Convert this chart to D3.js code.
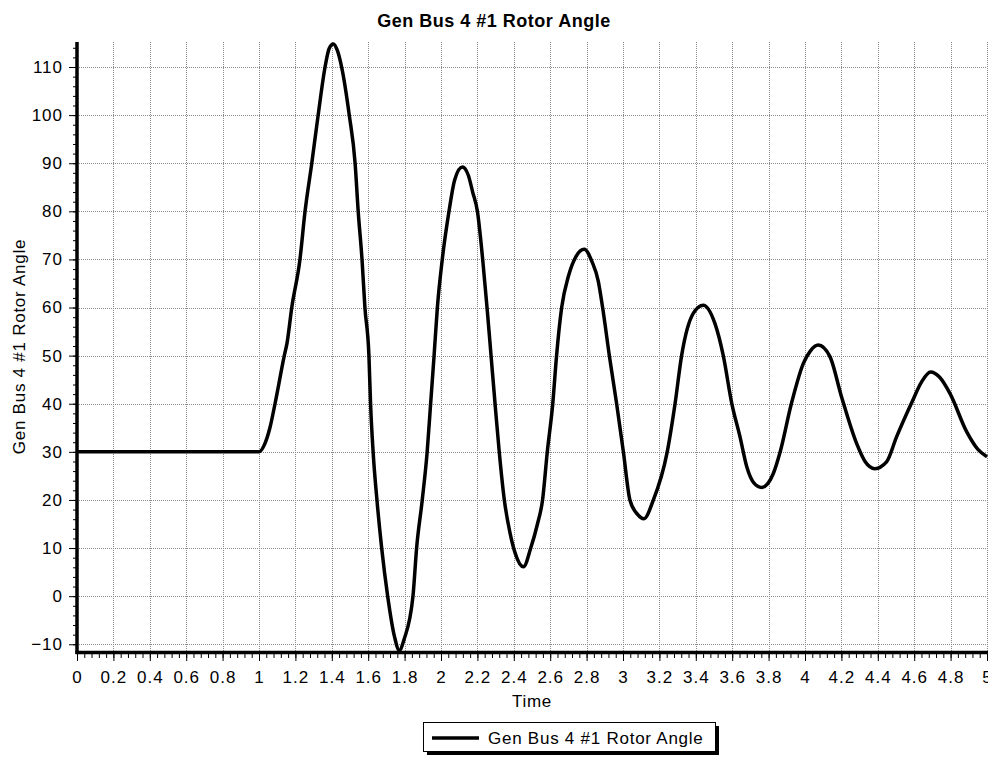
<!DOCTYPE html>
<html>
<head>
<meta charset="utf-8">
<script src="https://cdn.jsdelivr.net/npm/d3@7"></script>
<style>
  body { margin: 0; background: #fff; }
  svg { display: block; font-family: "Liberation Sans", Arial, sans-serif; }
</style>
</head>
<body>
<div id="chart"></div>
<script>
// values
const chartTitle = 'Gen Bus 4 #1 Rotor Angle';
const seriesName = 'Gen Bus 4 #1 Rotor Angle';
const xTitle = 'Time';
const yTitle = 'Gen Bus 4 #1 Rotor Angle';

const time = [0, 1.0, 1.03, 1.06, 1.088, 1.139, 1.154, 1.18, 1.225, 1.253, 1.29, 1.325, 1.363, 1.385, 1.408,
  1.43, 1.454, 1.496, 1.528, 1.545, 1.566, 1.582, 1.604, 1.613, 1.627, 1.648, 1.674, 1.707, 1.745, 1.771,
  1.797, 1.846, 1.866, 1.897, 1.924, 1.943, 1.962, 1.98, 2.007, 2.044, 2.075, 2.117, 2.15, 2.174, 2.2,
  2.229, 2.253, 2.275, 2.297, 2.32, 2.348, 2.38, 2.407, 2.453, 2.493, 2.53, 2.558, 2.584, 2.614, 2.635,
  2.663, 2.70, 2.74, 2.787, 2.83, 2.864, 2.888, 2.925, 2.965, 3.002, 3.038, 3.08, 3.115, 3.167, 3.243,
  3.286, 3.322, 3.386, 3.441, 3.505, 3.551, 3.597, 3.643, 3.68, 3.72, 3.762, 3.826, 3.863, 3.925, 3.991,
  4.03, 4.073, 4.137, 4.201, 4.284, 4.33, 4.384, 4.448, 4.503, 4.586, 4.64, 4.69, 4.74, 4.797, 4.888,
  4.95, 5.0];
const angle = [30, 30, 31.5, 35, 40, 50, 52.6, 60, 70, 80, 90, 100, 110, 113.8, 114.8,
  113.5, 110, 100, 90, 80, 70, 60, 50, 40, 30, 20, 10, 0, -8.5, -11.3,
  -9, 0, 10, 20, 30, 40, 50, 60, 70, 80, 86.5, 89.2, 87.5, 84, 80,
  70, 60, 50, 40, 30, 20, 13, 9, 6.1, 10, 15, 20, 30, 40, 50,
  60, 66.5, 70.5, 72.1, 69.5, 65.5, 60, 50, 40, 30, 20, 17, 16.1, 20, 30,
  40, 50, 58.8, 60.5, 56.7, 50, 40.2, 33.1, 26.9, 23.5, 22.6, 25.5, 29.9, 40, 48.4,
  51, 52.2, 49.8, 41.4, 31.7, 28, 26.5, 27.9, 33.1, 40.2, 44.5, 46.6, 45.5, 42.1, 34.2,
  30.5, 29.0];

const xTicks = d3.range(0, 26).map(i => +(i * 0.2).toFixed(1));
const xMinorTicks = d3.range(0, 126).map(i => +(i * 0.04).toFixed(2));
const yTicks = [-10, 0, 10, 20, 30, 40, 50, 60, 70, 80, 90, 100, 110];
const yMinorTicks = d3.range(-10, 116, 2);

const width = 988, height = 757;
const plotLeft = 77, plotRight = 987, plotTop = 42, plotBottom = 651;

const svg = d3.select('#chart').append('svg')
  .attr('width', width)
  .attr('height', height);

const x = d3.scaleLinear().domain([0, 5]).range([plotLeft, plotRight]);
const y = d3.scaleLinear().domain([-11.4, 115.2]).range([plotBottom, plotTop]);
const px = v => Math.round(v) + 0.5;

// dotted grid
const grid = svg.append('g')
  .attr('stroke', '#8a8a8a')
  .attr('stroke-width', 1)
  .attr('stroke-dasharray', '1,1');
grid.selectAll('line.v')
  .data(xTicks.filter(d => d > 0))
  .join('line')
  .attr('class', 'v')
  .attr('x1', d => px(x(d))).attr('x2', d => px(x(d)))
  .attr('y1', plotTop).attr('y2', plotBottom);
grid.selectAll('line.h')
  .data(yTicks)
  .join('line')
  .attr('class', 'h')
  .attr('x1', plotLeft).attr('x2', plotRight)
  .attr('y1', d => px(y(d))).attr('y2', d => px(y(d)));

// y axis
const yAxis = svg.append('g').attr('transform', `translate(${plotLeft},0)`);
yAxis.append('g').call(d3.axisLeft(y).tickValues(yMinorTicks).tickSize(4).tickFormat(''));
yAxis.append('g').call(d3.axisLeft(y).tickValues(yTicks).tickSize(8).tickPadding(6).tickFormat(d3.format('d')));
yAxis.selectAll('.domain').remove();
yAxis.selectAll('.tick line').attr('stroke', '#000').attr('stroke-width', 1);
yAxis.selectAll('.tick text')
  .attr('fill', '#000')
  .style('font-size', '17px')
  .style('letter-spacing', '1px');

// x axis
const xAxis = svg.append('g').attr('transform', `translate(0,${plotBottom + 2})`);
xAxis.append('g').call(d3.axisBottom(x).tickValues(xMinorTicks).tickSize(5).tickFormat(''));
xAxis.append('g').call(d3.axisBottom(x).tickValues(xTicks).tickSize(8).tickPadding(10).tickFormat(d3.format('')));
xAxis.selectAll('.domain').remove();
xAxis.selectAll('.tick line').attr('stroke', '#000').attr('stroke-width', 1);
xAxis.selectAll('.tick text')
  .attr('fill', '#000')
  .style('font-size', '17px')
  .style('letter-spacing', '1px');

// thick axis lines
svg.append('line')
  .attr('x1', plotLeft).attr('x2', plotLeft)
  .attr('y1', plotTop).attr('y2', plotBottom + 3)
  .attr('stroke', '#000').attr('stroke-width', 3.5);
svg.append('line')
  .attr('x1', plotLeft - 1.5).attr('x2', plotRight + 1)
  .attr('y1', plotBottom + 1.5).attr('y2', plotBottom + 1.5)
  .attr('stroke', '#000').attr('stroke-width', 3.5);

// the series
const points = time.map((t, i) => [t, angle[i]]);
svg.append('path')
  .datum(points)
  .attr('fill', 'none')
  .attr('stroke', '#000')
  .attr('stroke-width', 3.5)
  .attr('stroke-linejoin', 'round')
  .attr('d', d3.line().x(d => x(d[0])).y(d => y(d[1])).curve(d3.curveMonotoneX));

// titles
svg.append('text')
  .attr('x', width / 2).attr('y', 27)
  .attr('text-anchor', 'middle')
  .style('font-size', '18px').style('font-weight', 'bold').style('letter-spacing', '0.5px')
  .text(chartTitle);

svg.append('text')
  .attr('x', (plotLeft + plotRight) / 2).attr('y', 707)
  .attr('text-anchor', 'middle')
  .style('font-size', '17px').style('letter-spacing', '0.75px')
  .text(xTitle);

svg.append('text')
  .attr('transform', `translate(25,${(plotTop + plotBottom) / 2}) rotate(-90)`)
  .attr('text-anchor', 'middle')
  .style('font-size', '17px').style('letter-spacing', '0.75px')
  .text(yTitle);

// legend with drop shadow
const legend = svg.append('g').attr('transform', 'translate(423,722)');
legend.append('rect')
  .attr('x', 4).attr('y', 4).attr('width', 292).attr('height', 29)
  .attr('fill', '#000');
legend.append('rect')
  .attr('x', 0.5).attr('y', 0.5).attr('width', 292).attr('height', 29)
  .attr('fill', '#fff').attr('stroke', '#000').attr('stroke-width', 1);
legend.append('line')
  .attr('x1', 9).attr('x2', 56).attr('y1', 16).attr('y2', 16)
  .attr('stroke', '#000').attr('stroke-width', 3.5);
legend.append('text')
  .attr('x', 65).attr('y', 22)
  .style('font-size', '17px').style('letter-spacing', '0.75px')
  .text(seriesName);
</script>
</body>
</html>
